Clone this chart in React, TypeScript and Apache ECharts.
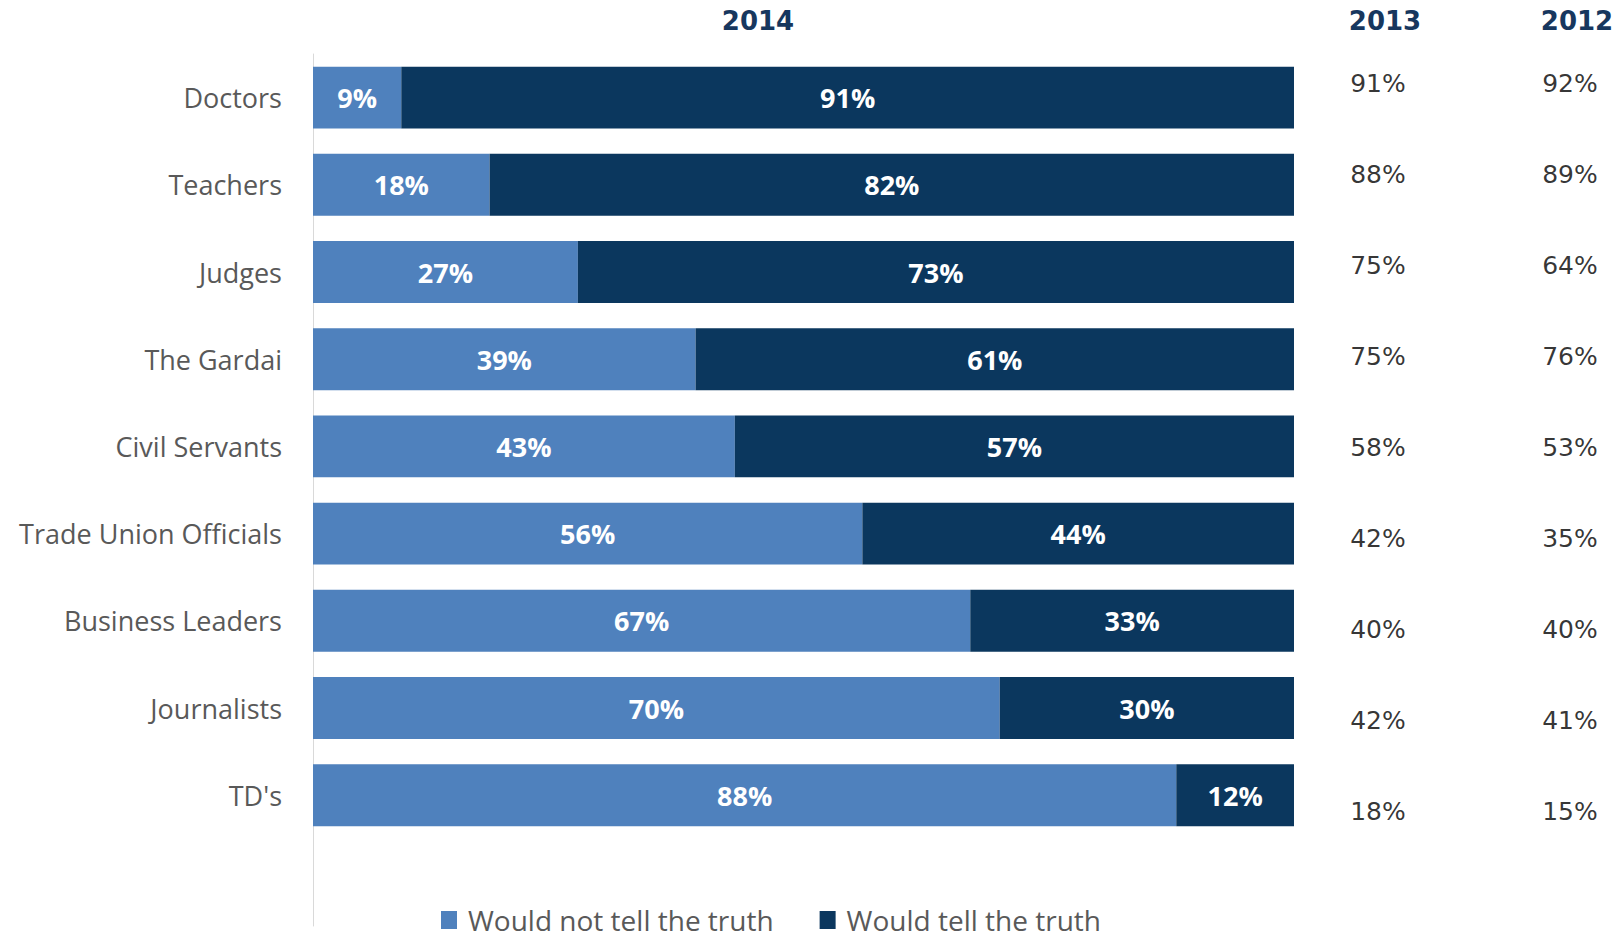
import React, { useEffect, useRef } from "react";
import * as echarts from "echarts";

const categories = [
  "Doctors",
  "Teachers",
  "Judges",
  "The Gardai",
  "Civil Servants",
  "Trade Union Officials",
  "Business Leaders",
  "Journalists",
  "TD's",
];
const wouldNotTell2014 = [9, 18, 27, 39, 43, 56, 67, 70, 88];
const wouldTell2014 = [91, 82, 73, 61, 57, 44, 33, 30, 12];
const wouldTell2013 = [91, 88, 75, 75, 58, 42, 40, 42, 18];
const wouldTell2012 = [92, 89, 64, 76, 53, 35, 40, 41, 15];
const seriesNames = ["Would not tell the truth", "Would tell the truth"];
const yearHeaders = ["2014", "2013", "2012"];

const LIGHT = "#4F81BD";
const DARK = "#0B375E";
const HEADER = "#17375E";
const GRAY = "#595959";
const LABEL_FONT = "'Open Sans', 'Noto Sans', sans-serif";
const NUM_FONT = "'DejaVu Sans', Verdana, sans-serif";

export default function App() {
  const ref = useRef<HTMLDivElement>(null);

  useEffect(() => {
    if (!ref.current) return;
    const chart = echarts.init(ref.current, undefined, { renderer: "svg" });
    const mainCats = [...categories, ""];
    const barLabel = {
      show: true,
      position: "inside",
      color: "#FFFFFF",
      fontFamily: LABEL_FONT,
      fontWeight: "bold",
      fontSize: 27,
      formatter: (p: any) => `${p.value}%`,
    };
    const colLabel = {
      show: true,
      position: "inside",
      color: "#000000",
      fontFamily: NUM_FONT,
      fontSize: 25,
      formatter: (p: any) => `${p.value[2]}%`,
    };
    chart.setOption({
      animation: false,
      backgroundColor: "#FFFFFF",
      grid: [
        { left: 313, top: 54, width: 981, height: 872 },
        { left: 1378, top: 37.8, width: 192, height: 819.5 },
      ],
      xAxis: [
        { type: "value", gridIndex: 0, min: 0, max: 100, show: false },
        { type: "value", gridIndex: 1, min: 0, max: 1, show: false },
      ],
      yAxis: [
        {
          type: "category",
          gridIndex: 0,
          inverse: true,
          data: mainCats,
          axisLine: { show: true, lineStyle: { color: "#D9D9D9", width: 1 } },
          axisTick: { show: false },
          splitLine: { show: false },
          axisLabel: {
            color: GRAY,
            fontFamily: LABEL_FONT,
            fontSize: 27,
            margin: 31,
          },
        },
        {
          type: "category",
          gridIndex: 1,
          inverse: true,
          data: categories,
          show: false,
        },
      ],
      legend: {
        data: seriesNames,
        left: 436,
        top: 900,
        itemWidth: 16,
        itemHeight: 18,
        itemGap: 46,
        icon: "rect",
        textStyle: {
          color: GRAY,
          fontFamily: LABEL_FONT,
          fontSize: 28,
          lineHeight: 30,
          padding: [0, 0, 0, 6],
        },
      },
      graphic: [
        { type: "text", x: 758, y: 21, style: { text: yearHeaders[0] } },
        { type: "text", x: 1385, y: 21, style: { text: yearHeaders[1] } },
        { type: "text", x: 1577, y: 21, style: { text: yearHeaders[2] } },
      ].map((g) => ({
        ...g,
        style: {
          ...g.style,
          fill: HEADER,
          font: `bold 26px ${NUM_FONT}`,
          textAlign: "center",
          textVerticalAlign: "middle",
        },
      })),
      series: [
        {
          name: seriesNames[0],
          type: "bar",
          stack: "total",
          xAxisIndex: 0,
          yAxisIndex: 0,
          barCategoryGap: "29%",
          itemStyle: { color: LIGHT },
          label: barLabel,
          data: wouldNotTell2014,
        },
        {
          name: seriesNames[1],
          type: "bar",
          stack: "total",
          xAxisIndex: 0,
          yAxisIndex: 0,
          barCategoryGap: "29%",
          itemStyle: { color: DARK },
          label: barLabel,
          data: wouldTell2014,
        },
        {
          name: "2013",
          type: "scatter",
          xAxisIndex: 1,
          yAxisIndex: 1,
          symbolSize: 0,
          label: colLabel,
          data: wouldTell2013.map((v, i) => [0, i, v]),
          encode: { x: 0, y: 1 },
        },
        {
          name: "2012",
          type: "scatter",
          xAxisIndex: 1,
          yAxisIndex: 1,
          symbolSize: 0,
          label: colLabel,
          data: wouldTell2012.map((v, i) => [1, i, v]),
          encode: { x: 0, y: 1 },
        },
      ],
    });
    return () => chart.dispose();
  }, []);

  return (
    <div
      ref={ref}
      style={{ position: "fixed", left: 0, top: 0, width: 1618, height: 939 }}
    />
  );
}
